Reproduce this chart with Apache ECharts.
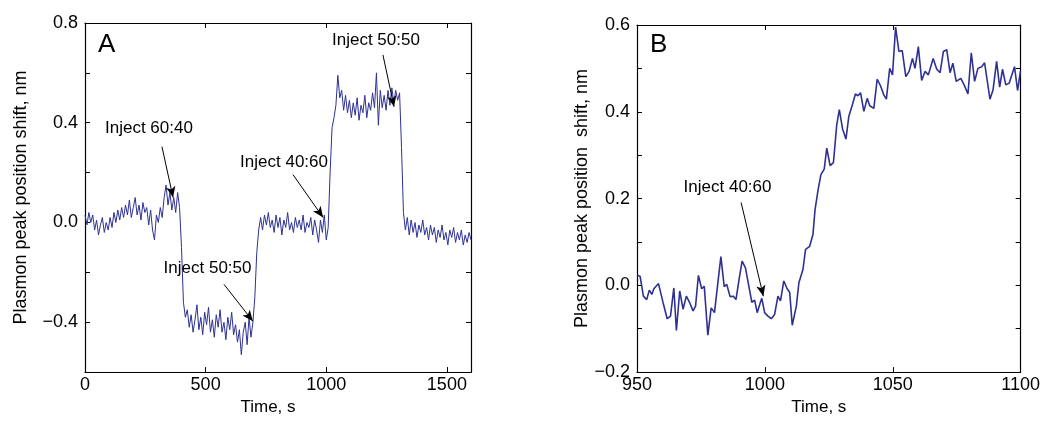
<!DOCTYPE html>
<html>
<head>
<meta charset="utf-8">
<script src="https://cdn.jsdelivr.net/npm/echarts@6/dist/echarts.min.js"></script>
<style>
  html, body { margin: 0; padding: 0; background: #fff; }
  #chart { width: 1043px; height: 421px; }
</style>
</head>
<body>
<div id="chart"></div>
<script>
// Panel A: full run, one sample every 8 s
const timeStepA = 8;
const shiftA = [
  0.03, -0.01, 0.04, 0.00, 0.03, -0.03, 0.01, -0.05, -0.01, 0.02,
  -0.04, 0.00, -0.03, 0.02, -0.02, 0.04, 0.00, 0.05, 0.01, 0.06,
  0.02, 0.07, 0.03, 0.09, 0.02, 0.06, 0.10, 0.03, 0.07, 0.01,
  0.08, 0.04, 0.06, -0.01, 0.05, -0.03, -0.07, 0.03, 0.00, 0.06,
  0.02, 0.10, 0.15, 0.07, 0.12, 0.05, 0.10, 0.04, 0.12, 0.06,
  -0.10, -0.32, -0.38, -0.35, -0.42, -0.37, -0.44, -0.39, -0.33, -0.43,
  -0.38, -0.45, -0.36, -0.41, -0.34, -0.44, -0.39, -0.46, -0.37, -0.42,
  -0.35, -0.44, -0.40, -0.47, -0.38, -0.43, -0.36, -0.45, -0.41, -0.48,
  -0.43, -0.53, -0.44, -0.40, -0.49, -0.38, -0.46, -0.40, -0.30, -0.12,
  -0.03, 0.02, -0.03, 0.03, -0.01, 0.04, -0.02, 0.01, -0.04, 0.03,
  -0.02, 0.02, -0.05, 0.01, -0.02, 0.04, -0.03, 0.00, -0.04, 0.02,
  -0.02, 0.01, -0.03, 0.03, -0.04, 0.00, -0.02, 0.02, -0.05, 0.01,
  -0.03, -0.08, 0.01, -0.04, 0.03, -0.07, -0.02, 0.20, 0.38, 0.42,
  0.47, 0.59, 0.50, 0.53, 0.45, 0.51, 0.44, 0.49, 0.42, 0.48,
  0.43, 0.50, 0.41, 0.47, 0.44, 0.51, 0.42, 0.48, 0.45, 0.52,
  0.46, 0.60, 0.39, 0.53, 0.46, 0.51, 0.45, 0.53, 0.47, 0.54,
  0.48, 0.53, 0.49, 0.52, 0.30, 0.04, -0.03, 0.02, -0.05, 0.01,
  -0.04, 0.00, -0.06, -0.01, -0.04, 0.01, -0.05, -0.02, -0.07, -0.01,
  -0.05, -0.02, -0.08, -0.03, -0.06, -0.01, -0.07, -0.04, -0.09, -0.03,
  -0.06, -0.02, -0.08, -0.04, -0.07, -0.03, -0.09, -0.05, -0.08, -0.04,
  -0.07
];

// Panel B: zoom on the 40:60 injection
const timeB = [
  950.1, 951.2, 952.5, 953.8, 954.8, 955.8, 956.6, 958.4, 960.2, 961.8,
  963.1, 964.4, 965.4, 966.7, 968.0, 969.3, 970.6, 971.9, 972.9, 974.0,
  975.3, 976.3, 977.7, 979.0, 980.3, 981.5, 982.8, 984.1, 985.1, 986.4,
  987.7, 988.7, 990.0, 991.1, 992.4, 993.6, 994.9, 996.0, 997.0, 998.1,
  998.8, 999.9, 1001.2, 1002.5, 1003.8, 1005.1, 1006.1, 1007.4, 1008.7, 1009.7,
  1010.7, 1012.3, 1013.3, 1014.9, 1015.9, 1017.5, 1018.8, 1019.6, 1020.8, 1021.9,
  1023.2, 1024.2, 1025.5, 1026.8, 1028.1, 1029.1, 1030.4, 1031.7, 1032.8, 1034.1,
  1035.4, 1036.4, 1037.4, 1038.7, 1040.0, 1041.0, 1042.6, 1043.9, 1045.2, 1046.5,
  1047.5, 1048.8, 1049.9, 1051.1, 1052.4, 1053.7, 1055.1, 1056.4, 1057.7, 1058.7,
  1060.0, 1061.3, 1062.6, 1063.9, 1065.8, 1067.2, 1068.5, 1069.8, 1071.1, 1072.4,
  1073.5, 1074.8, 1076.6, 1077.9, 1079.4, 1080.7, 1082.0, 1083.3, 1084.8, 1085.9,
  1088.0, 1089.2, 1090.6, 1091.8, 1092.9, 1094.2, 1095.5, 1097.6, 1098.8, 1099.9
];
const shiftB = [
  0.023, 0.021, -0.025, -0.033, -0.011, -0.021, -0.008, 0.004, -0.040, -0.077,
  -0.071, -0.006, -0.104, -0.013, -0.055, -0.025, -0.040, -0.059, -0.048, 0.023,
  -0.008, -0.002, -0.115, -0.052, -0.063, 0.000, 0.066, -0.003, 0.002, -0.026,
  -0.025, -0.033, 0.017, 0.056, 0.040, 0.002, -0.039, -0.034, -0.063, -0.042,
  -0.030, -0.063, -0.071, -0.077, -0.067, -0.025, -0.036, 0.010, -0.008, -0.016,
  -0.092, -0.048, 0.006, 0.037, 0.083, 0.090, 0.117, 0.174, 0.220, 0.255,
  0.268, 0.316, 0.276, 0.283, 0.370, 0.405, 0.360, 0.337, 0.389, 0.414,
  0.441, 0.437, 0.444, 0.401, 0.431, 0.414, 0.408, 0.475, 0.460, 0.439,
  0.429, 0.500, 0.485, 0.595, 0.539, 0.541, 0.481, 0.493, 0.523, 0.500,
  0.550, 0.472, 0.493, 0.485, 0.523, 0.498, 0.490, 0.539, 0.543, 0.490,
  0.512, 0.470, 0.477, 0.462, 0.441, 0.536, 0.470, 0.500, 0.504, 0.513,
  0.429, 0.450, 0.516, 0.457, 0.498, 0.462, 0.466, 0.504, 0.449, 0.493
];

// annotations: [text, text centre, arrow tail, arrow head] in data units
const notesA = [
  ['Inject 60:40', [265, 0.376], [319, 0.304], [365, 0.10]],
  ['Inject 50:50', [508, -0.184], [576, -0.248], [696, -0.396]],
  ['Inject 40:60', [825, 0.240], [862, 0.192], [987, 0.02]],
  ['Inject 50:50', [1206, 0.732], [1235, 0.672], [1281, 0.464]]
];
const notesB = [
  ['Inject 40:60', [985.4, 0.225], [990.7, 0.191], [999.4, -0.025]]
];

const FONT = 'Liberation Sans';
const lineColor = '#2e3192';
const fmtNum = v => (v < 0 ? '\u2212' : '') + Math.abs(v).toFixed(1);

const chart = echarts.init(document.getElementById('chart'), null, { renderer: 'canvas' });

const frameLine = { show: true, onZero: false, lineStyle: { color: '#000', width: 1.2 } };
const frameTick = { show: true, inside: true, length: 5, lineStyle: { color: '#000' } };

function bottomAxis(grid, min, max, interval, hide) {
  return {
    type: 'value', gridIndex: grid, position: 'bottom', min, max, interval,
    name: 'Time, s', nameLocation: 'middle', nameGap: 25,
    nameTextStyle: { fontFamily: FONT, fontSize: 17, color: '#000', padding: [0, 20, 0, 0] },
    axisLine: frameLine, axisTick: frameTick,
    axisLabel: {
      show: true, margin: 4, fontFamily: FONT, fontSize: 18, color: '#000',
      showMinLabel: true, showMaxLabel: true,
      formatter: v => (hide && v === max ? '' : String(v))
    },
    splitLine: { show: false }
  };
}
function topAxis(grid, min, max, interval) {
  return {
    type: 'value', gridIndex: grid, position: 'top', min, max, interval,
    axisLine: frameLine, axisTick: frameTick,
    axisLabel: { show: false }, splitLine: { show: false }
  };
}
function leftAxis(grid, min, max, interval, every, gap, name) {
  return {
    type: 'value', gridIndex: grid, position: 'left', min, max, interval,
    name, nameLocation: 'middle', nameGap: gap,
    nameTextStyle: { fontFamily: FONT, fontSize: 18, color: '#000' },
    axisLine: frameLine, axisTick: frameTick,
    axisLabel: {
      show: true, margin: 7, fontFamily: FONT, fontSize: 18, color: '#000',
      formatter: v => (Math.round(v * 10) % every === 0 ? fmtNum(v) : '')
    },
    splitLine: { show: false }
  };
}
function rightAxis(grid, min, max, interval) {
  return {
    type: 'value', gridIndex: grid, position: 'right', min, max, interval,
    axisLine: frameLine, axisTick: frameTick,
    axisLabel: { show: false }, splitLine: { show: false }
  };
}

function arrows(notes) {
  return {
    silent: true, symbol: ['none', 'arrow'], symbolSize: [7, 11],
    lineStyle: { color: '#000', width: 1, type: 'solid' },
    label: { show: false },
    data: notes.map(n => [{ coord: n[2] }, { coord: n[3] }])
  };
}
function texts(notes) {
  return {
    silent: true, symbol: 'circle', symbolSize: 0,
    label: { show: true, position: 'inside', formatter: '{b}', fontFamily: FONT, fontSize: 17, color: '#000' },
    data: notes.map(n => ({ name: n[0], coord: n[1] }))
  };
}

const option = {
  animation: false,
  textStyle: { fontFamily: FONT },
  grid: [
    { left: 85, right: 572, top: 23, bottom: 48 },
    { left: 637, right: 20, top: 25, bottom: 48 }
  ],
  xAxis: [
    bottomAxis(0, 0, 1600, 500, true),
    topAxis(0, 0, 1600, 500),
    bottomAxis(1, 950, 1100, 50, false),
    topAxis(1, 950, 1100, 50)
  ],
  yAxis: [
    leftAxis(0, -0.6, 0.8, 0.2, 4, 55, 'Plasmon peak position shift, nm'),
    rightAxis(0, -0.6, 0.8, 0.2),
    leftAxis(1, -0.2, 0.6, 0.1, 2, 44, 'Plasmon peak position  shift, nm'),
    rightAxis(1, -0.2, 0.6, 0.1)
  ],
  graphic: [
    { type: 'text', left: 98, top: 32, style: { text: 'A', fontFamily: FONT, fontSize: 26, fill: '#000' } },
    { type: 'text', left: 650, top: 32, style: { text: 'B', fontFamily: FONT, fontSize: 26, fill: '#000' } }
  ],
  series: [
    {
      type: 'line', xAxisIndex: 0, yAxisIndex: 0, showSymbol: false,
      lineStyle: { color: lineColor, width: 1 },
      data: shiftA.map((v, i) => [i * timeStepA, v]),
      markLine: arrows(notesA),
      markPoint: texts(notesA)
    },
    {
      type: 'line', xAxisIndex: 2, yAxisIndex: 2, showSymbol: false,
      lineStyle: { color: lineColor, width: 1.6 },
      data: timeB.map((t, i) => [t, shiftB[i]]),
      markLine: arrows(notesB),
      markPoint: texts(notesB)
    }
  ]
};

chart.setOption(option);
</script>
</body>
</html>
